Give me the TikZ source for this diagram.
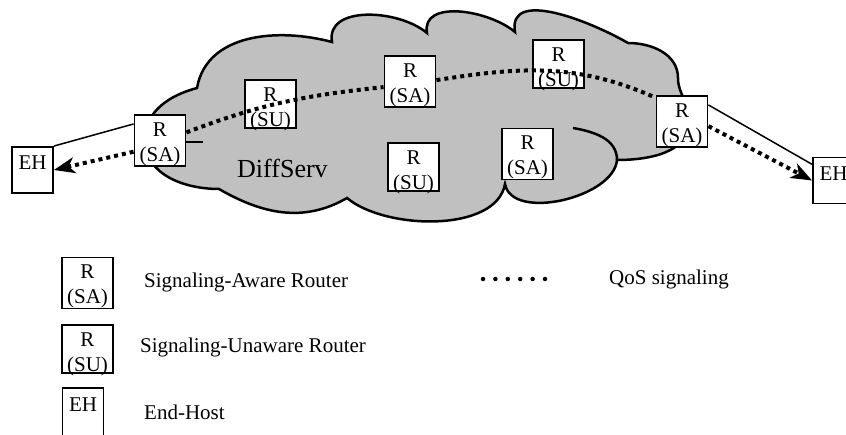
\documentclass[tikz,border=0pt]{standalone}
\usepackage{fontspec}
\setmainfont{Liberation Serif}
\usetikzlibrary{arrows.meta}
\definecolor{cloudgray}{RGB}{192,192,192}
\newcommand\rfont{\fontsize{21}{25}\selectfont}
\tikzset{
  rbox/.style={draw, fill=white, line width=1.9pt, inner sep=0pt, minimum width=51pt, align=center, font=\rfont},
  sabox/.style={rbox, minimum height=51pt, text height=42pt, text depth=0pt},
  subox/.style={rbox, minimum height=48pt, text height=46pt, text depth=0pt},
  ehbox/.style={rbox, minimum width=41pt, minimum height=46pt, text height=14pt, text depth=14pt},
  cloudline/.style={line width=2.5pt},
  qos/.style={line width=4pt, dash pattern=on 4pt off 4pt},
  link/.style={line width=1.5pt},
  tip/.style={-{Stealth[length=21pt,width=16pt,inset=6pt]}},
  legtext/.style={anchor=base west, inner sep=0pt, font=\rfont},
}
\begin{document}
\begin{tikzpicture}[x=1pt,y=1pt]
  \useasboundingbox (0,0) rectangle (846,-435);
  % cloud
  \draw[cloudline, fill=cloudgray]
    (219,-189) to[out=180,in=-90] (145,-140) to[out=90,in=195] (197,-88)
    to[out=80,in=165] (332,-42) to[out=100,in=140] (427,-33)
    to[out=100,in=140] (515,-32) to[out=100,in=150] (628,-43)
    to[out=0,in=90] (678,-78) to[out=-90,in=90] (690,-120)
    to[out=-90,in=0] (617,-160) to[out=-95,in=-80,looseness=.85] (505,-184)
    to[out=-100,in=-40,looseness=.8] (347,-198) to[out=210,in=-30] (219,-189) -- cycle;
  \draw[cloudline] (573,-128) to[out=-10,in=90] (617,-160);
  \draw[cloudline] (180,-142) -- (203,-142);
  \node[font=\fontsize{26}{30}\selectfont, anchor=base west, inner sep=0pt] (ds) at (237,-178) {DiffServ};
  % routers and hosts
  \node[ehbox] (eh1) at (32.5,-170) {EH};
  \node[sabox] (sa1) at (160,-140.5) {R\\(SA)};
  \node[subox] (su1) at (270.5,-104) {R\\(SU)};
  \node[sabox] (sa2) at (410,-81.5) {R\\(SA)};
  \node[subox] (su2) at (558.5,-64) {R\\(SU)};
  \node[subox] (su3) at (413.5,-167) {R\\(SU)};
  \node[sabox] (sa3) at (527.5,-154) {R\\(SA)};
  \node[sabox] (sa4) at (682,-121.5) {R\\(SA)};
  \node[ehbox] (eh2) at (833.5,-180.5) {EH};
  \begin{scope}
    \draw[qos] (sa1.17) to[out=21,in=186] (sa2.192);
    \draw[qos] (sa2.3) to[out=9,in=156] (sa4.138);
    \draw[link] (eh1.north east) -- (sa1.148);
    \draw[qos, tip] (sa1.203) -- (eh1.east);
    \draw[link] (sa4.32) -- (eh2.143);
    \draw[qos, tip] (sa4.-10) -- (eh2.west);
  \end{scope}
  % legend
  \node[sabox] (lsa) at (87.5,-283) {R\\(SA)};
  \node[subox] (lsu) at (87.5,-349) {R\\(SU)};
  \node[ehbox, minimum height=48pt] (leh) at (83,-412) {EH};
  \node[legtext] (tsa) at (144,-288) {Signaling-Aware Router};
  \node[legtext] (tsu) at (140,-353) {Signaling-Unaware Router};
  \node[legtext] (teh) at (144,-419) {End-Host};
  \draw[line width=4.5pt, line cap=round, dash pattern=on 0pt off 12.4pt] (483,-279) -- (546,-279);
  \node[legtext] (tqos) at (609,-285) {QoS signaling};
\end{tikzpicture}
\end{document}
